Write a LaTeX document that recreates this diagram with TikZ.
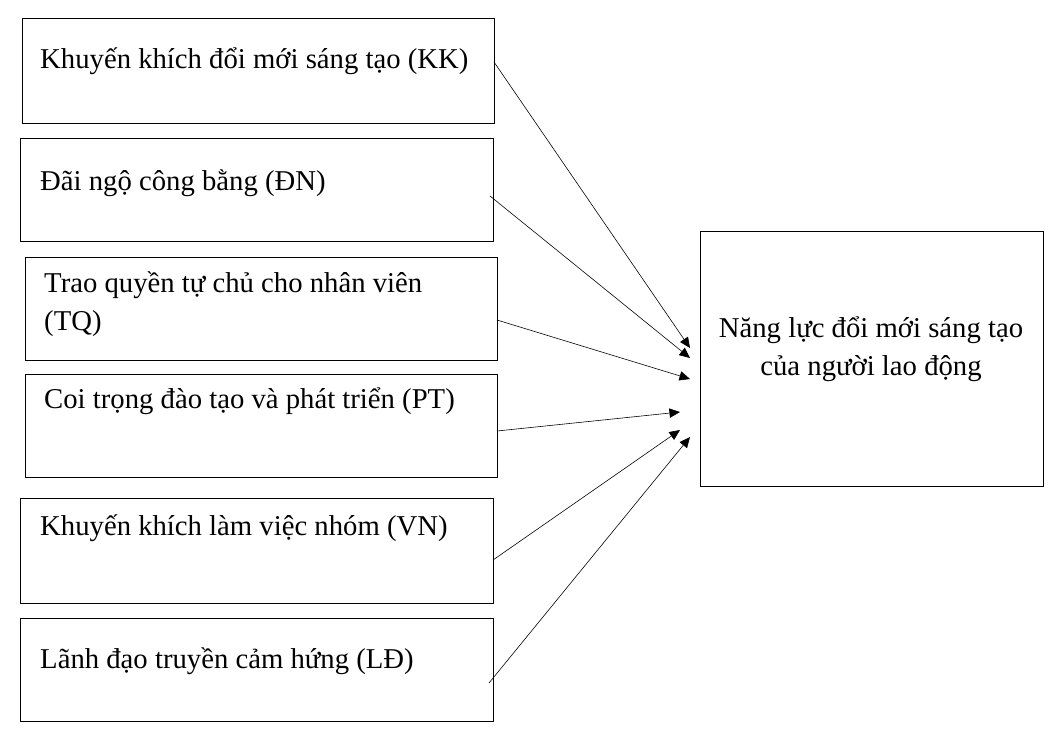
\documentclass[tikz,border=0pt]{standalone}
\usepackage{fontspec}
\setmainfont{Liberation Serif}
\usetikzlibrary{arrows.meta, positioning, calc}

\begin{document}
\begin{tikzpicture}[
  x=0.03cm, y=-0.03cm,
  box/.style = {draw=black, line width=0.8pt, inner sep=0pt},
  lbl/.style = {anchor=west, inner sep=0pt, font=\fontsize{24.5}{32}\selectfont, align=left},
  arrow/.style = {-{Triangle[length=9pt, width=8pt]}, line width=0.5pt}
]
\useasboundingbox (0,0) rectangle (1053,744);

% Factor boxes (left column)
\draw[box] (22,18) rectangle (494,123);
\node[lbl] (kk) at (40,61) {Khuyến khích đổi mới sáng tạo (KK)};
\draw[box] (20,138) rectangle (493,241);
\node[lbl] (dn) at (40,183) {Đãi ngộ công bằng (ĐN)};
\draw[box] (25,257) rectangle (497,360);
\node[lbl] (tq) at (44,304) {Trao quyền tự chủ cho nhân viên\\(TQ)};
\draw[box] (25,374) rectangle (497,477);
\node[lbl] (pt) at (44,401) {Coi trọng đào tạo và phát triển (PT)};
\draw[box] (20,498) rectangle (493,603);
\node[lbl] (vn) at (40,528) {Khuyến khích làm việc nhóm (VN)};
\draw[box] (20,618) rectangle (493,721);
\node[lbl] (ld) at (40,661) {Lãnh đạo truyền cảm hứng (LĐ)};

% Outcome box
\draw[box] (700,231) rectangle (1043,486);
\node[lbl, anchor=center, align=center] (nl) at (871,349) {Năng lực đổi mới sáng tạo\\của người lao động};

% Arrow ends
\coordinate (kkS) at (494,62);
\coordinate (dnS) at (490,196);
\coordinate (tqS) at (497,320);
\coordinate (ptS) at (497,431);
\coordinate (vnS) at (493,560);
\coordinate (ldS) at (489,683);
\coordinate (kkE) at (690,348);
\coordinate (dnE) at (690,358);
\coordinate (tqE) at (690,379);
\coordinate (ptE) at (680,412);
\coordinate (vnE) at (680,430);
\coordinate (ldE) at (690,437);

\foreach \f in {kk,dn,tq,pt,vn,ld}
  \draw[arrow] (\f S) -- (\f E);

\end{tikzpicture}
\end{document}
